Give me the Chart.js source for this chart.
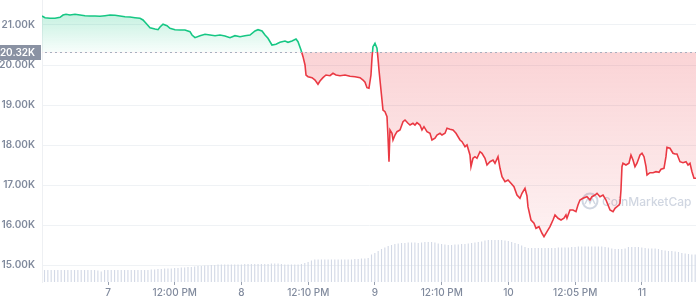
<!DOCTYPE html>
<html>
<head>
<meta charset="utf-8">
<script src="https://cdn.jsdelivr.net/npm/chart.js@4.4.1/dist/chart.umd.min.js"></script>
<style>
  body { margin: 0; background: #fff; }
  #wrap { width: 696px; height: 300px; position: relative; }
</style>
</head>
<body>
<div id="wrap"><canvas id="btcChart"></canvas></div>
<script>
// price samples: hours since day 6 00:00, and USD price
var hours = [
  12.13, 12.67, 13.57, 14.47, 15.37, 15.91, 16.45, 17.16, 18.06, 18.96, 19.86, 20.76, 21.66, 22.56, 23.46,
  24.36, 25.26, 26.15, 27.05, 27.95, 28.85, 29.75, 30.29, 30.83, 31.55, 32.45, 32.99, 33.35, 33.89, 34.61,
  35.14, 36.04, 36.94, 37.84, 38.74, 39.10, 39.64, 40.54, 41.44, 42.34, 43.24, 44.13, 45.03, 45.93, 46.83,
  47.73, 48.63, 49.53, 50.43, 50.97, 51.69, 52.23, 52.76, 53.48, 54.20, 54.92, 55.82, 56.36, 57.08, 57.80,
  58.16, 58.70, 59.06, 59.42, 59.60, 59.96, 60.68, 61.22, 61.75, 62.11, 62.65, 63.19, 63.91, 64.45, 64.99,
  65.71, 66.61, 67.51, 68.41, 69.31, 69.85, 70.21, 70.56, 70.92, 71.28, 71.46, 71.64, 72.00, 72.36, 72.54,
  72.72, 73.26, 73.44, 73.80, 74.16, 74.34, 74.52, 74.70, 75.06, 75.24, 75.60, 75.96, 76.50, 77.04, 77.40,
  77.94, 78.30, 78.83, 79.19, 79.55, 80.09, 80.45, 80.81, 81.35, 81.89, 82.25, 82.79, 83.15, 83.69, 84.05,
  84.59, 84.95, 85.49, 86.03, 86.57, 87.29, 87.65, 88.19, 88.55, 89.08, 89.26, 89.62, 89.98, 90.34, 90.88,
  91.24, 91.78, 92.14, 92.68, 93.22, 93.58, 94.12, 94.48, 94.84, 95.38, 95.92, 96.45, 96.99, 97.53, 98.07,
  98.43, 98.97, 99.33, 99.51, 100.05, 100.59, 100.95, 101.49, 102.03, 102.39, 102.93, 103.47, 104.01, 104.37, 104.91,
  105.45, 105.98, 106.34, 106.52, 107.06, 107.60, 108.14, 108.50, 108.86, 109.40, 110.12, 110.66, 111.02, 111.56, 111.92,
  112.46, 113.00, 113.54, 113.90, 114.26, 114.80, 115.16, 115.52, 115.87, 116.05, 116.23, 116.41, 116.59, 117.13, 117.67,
  118.03, 118.39, 118.75, 119.11, 119.65, 120.01, 120.37, 120.73, 120.91, 121.45, 121.99, 122.53, 123.07, 123.43, 123.96,
  124.32, 124.50, 125.04, 125.58, 125.94, 126.30, 126.84, 127.38, 127.92, 128.28, 128.64, 129.00, 129.36, 129.72
];
var prices = [
  21225, 21183, 21168, 21168, 21193, 21250, 21268, 21250, 21268, 21250, 21233, 21225, 21225, 21218, 21233,
  21250, 21243, 21225, 21208, 21200, 21183, 21168, 21125, 21043, 20933, 20900, 20883, 20950, 21018, 20983,
  20918, 20883, 20875, 20875, 20833, 20750, 20683, 20733, 20768, 20750, 20733, 20750, 20725, 20683, 20733,
  20708, 20733, 20750, 20850, 20883, 20850, 20750, 20668, 20500, 20518, 20568, 20600, 20568, 20600, 20650,
  20583, 20375, 20208, 20000, 19750, 19708, 19683, 19625, 19518, 19600, 19683, 19750, 19733, 19793, 19750,
  19733, 19750, 19718, 19708, 19683, 19625, 19568, 19433, 19418, 19750, 20168, 20458, 20543, 20418, 20168,
  19875, 19125, 18875, 18833, 18708, 18208, 17583, 18375, 18293, 18125, 18250, 18333, 18375, 18583, 18625,
  18543, 18500, 18543, 18500, 18558, 18500, 18375, 18458, 18333, 18293, 18125, 18168, 18250, 18293, 18250,
  18293, 18418, 18393, 18375, 18293, 18125, 18083, 17958, 18000, 17750, 17458, 17668, 17708, 17668, 17833,
  17793, 17668, 17500, 17583, 17625, 17543, 17708, 17418, 17208, 17083, 17125, 17043, 16958, 16750, 16668,
  16793, 16918, 16725, 16458, 16125, 16043, 15918, 15958, 15793, 15708, 15833, 15958, 16125, 16250, 16168,
  16125, 16168, 16250, 16168, 16375, 16375, 16333, 16500, 16625, 16668, 16708, 16625, 16708, 16750, 16793,
  16708, 16750, 16625, 16500, 16375, 16333, 16418, 16458, 16500, 16543, 16875, 17458, 17543, 17500, 17543,
  17750, 17625, 17458, 17543, 17750, 17793, 17708, 17458, 17250, 17308, 17308, 17333, 17318, 17393, 17418,
  17708, 17943, 17918, 17793, 17775, 17775, 17583, 17558, 17583, 17500, 17543, 17333, 17168, 17168
];
// 24h volume bars, billions USD
var volumes = [
  24, 24, 24, 24, 24, 24, 24, 24, 24, 24, 24, 24, 24, 24, 24, 24, 23, 21, 24, 24,
  24, 24, 24, 24, 24, 24, 24, 24, 24, 24, 24, 24, 25, 25, 26, 26, 27, 27, 27, 28,
  28, 29, 29, 30, 30, 31, 32, 32, 33, 33, 34, 34, 35, 35, 35, 35, 35, 35, 35, 35,
  36, 36, 36, 36, 36, 36, 36, 36, 37, 37, 37, 36, 35, 35, 35, 35, 35, 36, 38, 40,
  43, 45, 45, 45, 45, 45, 45, 45, 45, 45, 45, 45, 45, 46, 46, 47, 47, 48, 55, 58,
  62, 66, 69, 72, 74, 76, 77, 78, 78, 79, 79, 79, 78, 79, 80, 80, 80, 79, 77, 76,
  75, 74, 74, 75, 75, 76, 76, 77, 78, 79, 80, 81, 83, 84, 84, 84, 84, 84, 83, 82,
  80, 78, 76, 73, 70, 68, 68, 68, 68, 68, 68, 68, 68, 68, 69, 69, 69, 69, 70, 70,
  71, 71, 71, 71, 71, 71, 71, 71, 70, 69, 67, 66, 66, 66, 67, 70, 70, 70, 70, 69,
  68, 67, 67, 67, 66, 64, 63, 62, 62, 61, 60, 58, 57, 56, 55, 55
];
var openPrice = 20320;
var priceTicks = [15000, 16000, 17000, 18000, 19000, 20000, 21000];
var tickHours = [24, 36, 48, 60, 72, 84, 96, 108, 120];
var tickLabels = ["7", "12:00 PM", "8", "12:10 PM", "9", "12:10 PM", "10", "12:05 PM", "11"];

var GREEN = "#16c784";
var RED = "#ea3943";
var GREY = "#808a9d";

function splitGradient(chart, topColor, midUp, midDown, bottomColor) {
  var area = chart.chartArea;
  var y = chart.scales.y;
  if (!area || !y) return null;
  var base = y.getPixelForValue(openPrice);
  var f = Math.min(Math.max((base - area.top) / (area.bottom - area.top), 0), 1);
  var g = chart.ctx.createLinearGradient(0, area.top, 0, area.bottom);
  g.addColorStop(0, topColor);
  g.addColorStop(f, midUp);
  g.addColorStop(f, midDown);
  g.addColorStop(1, bottomColor);
  return g;
}

var linePoints = hours.map(function (h, i) { return { x: h, y: prices[i] }; });

var overlay = {
  id: "overlay",
  beforeDatasetsDraw: function (chart) {
    // watermark
    var ctx = chart.ctx;
    ctx.save();
    ctx.strokeStyle = "rgba(170,180,200,0.55)";
    ctx.fillStyle = "rgba(170,180,200,0.55)";
    ctx.lineWidth = 2;
    ctx.beginPath();
    ctx.arc(590, 201, 7.5, 0, Math.PI * 2);
    ctx.stroke();
    ctx.beginPath();
    ctx.lineWidth = 1.5;
    ctx.moveTo(585, 204);
    ctx.lineTo(588, 198);
    ctx.lineTo(590, 203);
    ctx.lineTo(592, 198);
    ctx.lineTo(595, 204);
    ctx.stroke();
    ctx.font = "500 12px Inter, 'Noto Sans', sans-serif";
    ctx.textBaseline = "middle";
    ctx.fillText("CoinMarketCap", 602, 202);
    ctx.restore();
  },
  afterDatasetsDraw: function (chart) {
    var ctx = chart.ctx;
    var area = chart.chartArea;
    var yb = Math.round(chart.scales.y.getPixelForValue(openPrice)) + 0.5;
    ctx.save();
    ctx.strokeStyle = "#a7afbf";
    ctx.lineWidth = 1;
    ctx.setLineDash([2, 3]);
    ctx.beginPath();
    ctx.moveTo(area.left + 3, yb);
    ctx.lineTo(area.right, yb);
    ctx.stroke();
    ctx.setLineDash([]);
    ctx.fillStyle = "#8a92a3";
    ctx.fillRect(0, yb - 7.5, area.left - 1, 15);
    ctx.fillStyle = "#ffffff";
    ctx.font = "600 10px Inter, 'Noto Sans', sans-serif";
    ctx.textAlign = "right";
    ctx.textBaseline = "middle";
    ctx.fillText((openPrice / 1000).toFixed(2) + "K", area.left - 7, yb);
    ctx.restore();
  }
};

new Chart(document.getElementById("btcChart"), {
  type: "line",
  data: {
    datasets: [
      {
        type: "line",
        data: linePoints,
        xAxisID: "x",
        yAxisID: "y",
        order: 0,
        borderWidth: 1.6,
        pointRadius: 0,
        tension: 0,
        borderColor: function (c) {
          return splitGradient(c.chart, GREEN, GREEN, RED, RED) || GREEN;
        },
        backgroundColor: function (c) {
          return splitGradient(c.chart, "rgba(22,199,132,0.32)", "rgba(22,199,132,0.03)",
            "rgba(234,57,67,0.22)", "rgba(234,57,67,0.03)") || "transparent";
        },
        fill: { value: openPrice }
      },
      {
        type: "bar",
        data: volumes,
        xAxisID: "xv",
        yAxisID: "yv",
        order: 1,
        backgroundColor: "#d3d9e6",
        barPercentage: 0.68,
        categoryPercentage: 1
      }
    ]
  },
  options: {
    responsive: true,
    maintainAspectRatio: false,
    animation: false,
    events: [],
    layout: { padding: 0 },
    plugins: { legend: { display: false }, tooltip: { enabled: false } },
    scales: {
      x: {
        type: "linear",
        min: 12.13,
        max: 129.72,
        afterBuildTicks: function (scale) {
          scale.ticks = tickHours.map(function (v) { return { value: v }; });
        },
        afterFit: function (scale) {
          scale.height = 18;
          scale.paddingLeft = 0;
          scale.paddingRight = 0;
        },
        grid: { display: true, drawOnChartArea: false, drawTicks: true, tickLength: 3, color: "#9aa2b1" },
        border: { display: false },
        ticks: {
          autoSkip: false,
          maxRotation: 0,
          padding: 2,
          color: GREY,
          font: { family: "Inter, 'Noto Sans', sans-serif", size: 10, weight: "500" },
          callback: function (v, i) { return tickLabels[i]; }
        }
      },
      xv: {
        type: "category",
        labels: volumes.map(function (v, i) { return String(i); }),
        display: false,
        offset: true
      },
      y: {
        type: "linear",
        position: "left",
        min: 14575,
        max: 21625,
        afterBuildTicks: function (scale) {
          scale.ticks = priceTicks.map(function (v) { return { value: v }; });
        },
        afterFit: function (scale) {
          scale.width = 42;
          scale.paddingTop = 0;
          scale.paddingBottom = 0;
        },
        grid: { color: "#eff2f5", drawTicks: false },
        border: { display: true, color: "#eef0f3" },
        ticks: {
          padding: 7,
          color: GREY,
          font: { family: "Inter, 'Noto Sans', sans-serif", size: 10, weight: "600" },
          callback: function (v) { return (v / 1000).toFixed(2) + "K"; }
        }
      },
      yv: {
        type: "linear",
        display: false,
        min: 0,
        max: 564
      }
    }
  },
  plugins: [overlay]
});
</script>
</body>
</html>
